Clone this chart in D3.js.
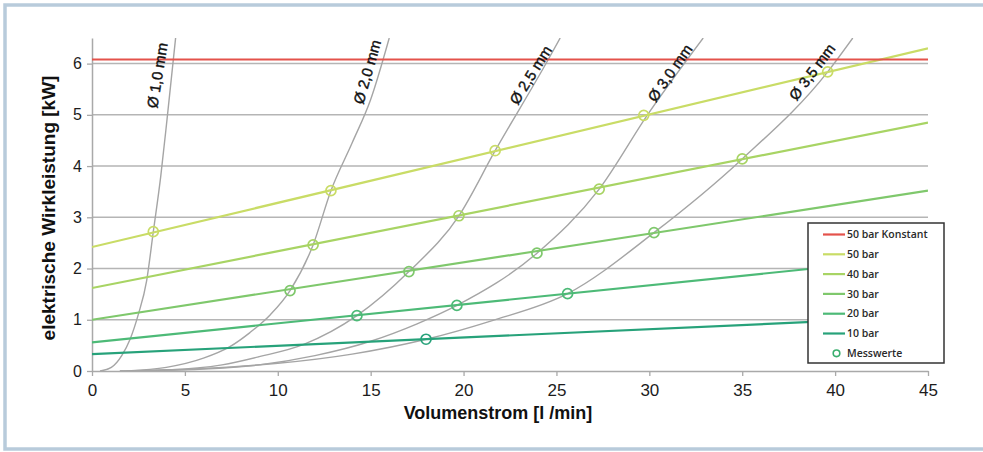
<!DOCTYPE html>
<html>
<head>
<meta charset="utf-8">
<script src="https://cdn.jsdelivr.net/npm/d3@7"></script>
<style>
  body { margin: 0; background: #fff; }
  svg { display: block; font-family: "Liberation Sans", Arial, sans-serif; }
</style>
</head>
<body>
<svg id="chart"></svg>
<script>
const xTicks = [0, 5, 10, 15, 20, 25, 30, 35, 40, 45];
const yTicks = [0, 1, 2, 3, 4, 5, 6];

// Leistung bei konstantem Druck: Wert bei 0 und bei 45 l/min
const pressureNames = ["50 bar", "40 bar", "30 bar", "20 bar", "10 bar"];
const powerAt0 = [2.42, 1.62, 1.0, 0.56, 0.33];
const powerAt45 = [6.3, 4.85, 3.52, 2.23, 1.06];
const konstant50 = 6.08;

// Messwerte [l/min, kW]
const mess50 = [[3.3, 2.72], [12.86, 3.52], [21.7, 4.3], [29.7, 4.99], [39.6, 5.84]];
const mess40 = [[11.9, 2.46], [19.75, 3.03], [27.3, 3.55], [35.0, 4.14]];
const mess30 = [[10.66, 1.57], [17.06, 1.94], [23.95, 2.3], [30.25, 2.7]];
const mess20 = [[14.26, 1.08], [19.64, 1.28], [25.6, 1.51]];
const mess10 = [[17.98, 0.62]];

// Düsenkennlinien
const nozzleNames = ["Ø 1,0 mm", "Ø 2,0 mm", "Ø 2,5 mm", "Ø 3,0 mm", "Ø 3,5 mm"];
const nozzle10 = [[0.43, 0], [1.04, 0.07], [1.6, 0.3], [2.05, 0.62], [2.49, 1.1], [2.94, 1.76], [3.3, 2.72], [3.7, 3.8], [4.05, 4.95], [4.5, 6.5]];
const nozzle20 = [[1.9, 0], [4.0, 0.07], [6.0, 0.25], [7.4, 0.47], [8.5, 0.75], [9.6, 1.1], [10.66, 1.57], [11.9, 2.46], [12.86, 3.52], [14.0, 4.45], [15.0, 5.3], [16.0, 6.5]];
const nozzle25 = [[1.5, 0], [4, 0.02], [7, 0.12], [9, 0.28], [11.4, 0.52], [14.26, 1.08], [17.06, 1.94], [19.75, 3.03], [21.7, 4.3], [24.56, 6.08], [25.2, 6.5]];
const nozzle30 = [[1.5, 0], [6, 0.04], [9, 0.12], [12, 0.3], [15, 0.58], [17.5, 0.92], [19.64, 1.28], [23.95, 2.3], [27.3, 3.55], [29.9, 5.0], [32.9, 6.5]];
const nozzle35 = [[2, 0], [6, 0.05], [10, 0.15], [14, 0.33], [17.98, 0.62], [21.5, 0.98], [25.6, 1.51], [30.25, 2.7], [35.0, 4.14], [39.6, 5.84], [40.95, 6.5]];

// label placement (data units) and angle
const nozzleLabelAt = [[3.5, 5.77], [14.8, 5.84], [23.6, 5.78], [31.1, 5.82], [38.75, 5.84]];
const nozzleLabelAngle = [-81, -74, -58, -55, -53];

const width = 983, height = 452;
const margin = { top: 38, right: 55, bottom: 81, left: 92 };
const barColors = ["#c9dc66", "#a8d464", "#7fc86c", "#4dba77", "#27a27a"];
const redColor = "#e4524b";
const gridColor = "#b5b5b5";
const curveColor = "#a5a5a5";

const svg = d3.select("#chart").attr("width", width).attr("height", height);

const x = d3.scaleLinear().domain([0, 45]).range([margin.left, width - margin.right]);
const y = d3.scaleLinear().domain([0, 6.5]).range([height - margin.bottom, margin.top]);

// frame
svg.append("rect")
  .attr("x", 5).attr("y", 5).attr("width", 1000).attr("height", 444)
  .attr("fill", "none").attr("stroke", "#b8cbdb").attr("stroke-width", 3.5);

svg.append("clipPath").attr("id", "plot")
  .append("rect")
  .attr("x", x(0)).attr("y", y(6.5))
  .attr("width", x(45) - x(0)).attr("height", y(0) - y(6.5));

// grid
svg.append("g").selectAll("line")
  .data(yTicks.filter(v => v > 0))
  .join("line")
  .attr("x1", x(0)).attr("x2", x(45))
  .attr("y1", d => y(d)).attr("y2", d => y(d))
  .attr("stroke", gridColor).attr("stroke-width", 1.5);

// axes
const yAxis = svg.append("g")
  .attr("transform", `translate(${x(0)},0)`)
  .call(d3.axisLeft(y).tickValues(yTicks).tickFormat(d3.format("d"))
    .tickSize(5).tickSizeOuter(0).tickPadding(5));
const xAxis = svg.append("g")
  .attr("transform", `translate(0,${y(0)})`)
  .call(d3.axisBottom(x).tickValues(xTicks).tickFormat(d3.format("d"))
    .tickSize(5).tickSizeOuter(0).tickPadding(8));
[yAxis, xAxis].forEach(a => {
  a.select(".domain").attr("stroke", "#a9a9a9").attr("stroke-width", 1.5);
  a.selectAll(".tick line").attr("stroke", "#a9a9a9").attr("stroke-width", 1.3);
  a.selectAll("text").attr("fill", "#1c1c1c").attr("font-family", "Liberation Sans, Arial, sans-serif");
});
yAxis.selectAll("text").attr("font-size", 16);
xAxis.selectAll("text").attr("font-size", 17);

const plot = svg.append("g").attr("clip-path", "url(#plot)");

// nozzle curves
const curveLine = d3.line()
  .x(d => x(d[0])).y(d => y(d[1]))
  .curve(d3.curveMonotoneX);
const nozzles = [nozzle10, nozzle20, nozzle25, nozzle30, nozzle35];
plot.append("g").selectAll("path")
  .data(nozzles)
  .join("path")
  .attr("d", curveLine)
  .attr("fill", "none").attr("stroke", curveColor).attr("stroke-width", 1.4);

// pressure lines
const bars = pressureNames.map((n, i) => [[0, powerAt0[i]], [45, powerAt45[i]]]);
plot.append("g").selectAll("path")
  .data(bars)
  .join("path")
  .attr("d", d3.line().x(d => x(d[0])).y(d => y(d[1])))
  .attr("fill", "none")
  .attr("stroke", (d, i) => barColors[i])
  .attr("stroke-width", 2.2);

plot.append("line")
  .attr("x1", x(0)).attr("x2", x(45))
  .attr("y1", y(konstant50)).attr("y2", y(konstant50))
  .attr("stroke", redColor).attr("stroke-width", 2);

// measured points
const messSets = [mess50, mess40, mess30, mess20, mess10];
messSets.forEach((set, i) => {
  plot.append("g").selectAll("circle")
    .data(set)
    .join("circle")
    .attr("cx", d => x(d[0])).attr("cy", d => y(d[1]))
    .attr("r", 5)
    .attr("fill", "none")
    .attr("stroke", barColors[i])
    .attr("stroke-width", 1.7);
});

// nozzle labels
svg.append("g").selectAll("text")
  .data(nozzleNames)
  .join("text")
  .attr("transform", (d, i) => `translate(${x(nozzleLabelAt[i][0])},${y(nozzleLabelAt[i][1])}) rotate(${nozzleLabelAngle[i]})`)
  .attr("text-anchor", "middle")
  .attr("dominant-baseline", "central")
  .attr("font-size", 15)
  .attr("fill", "#111")
  .attr("stroke", "#111").attr("stroke-width", 0.4)
  .text(d => d);

// axis titles
svg.append("text")
  .attr("transform", `translate(55,208) rotate(-90)`)
  .attr("text-anchor", "middle")
  .attr("font-size", 19).attr("font-weight", "bold").attr("fill", "#111")
  .text("elektrische Wirkleistung [kW]");
svg.append("text")
  .attr("x", 498).attr("y", 419)
  .attr("text-anchor", "middle")
  .attr("font-size", 18).attr("font-weight", "bold").attr("fill", "#111")
  .text("Volumenstrom [l /min]");

// legend
const legendNames = ["50 bar Konstant", ...pressureNames, "Messwerte"];
const legendColors = [redColor, ...barColors, "#3aae6e"];
const legend = svg.append("g").attr("transform", "translate(808,223)");
legend.append("rect")
  .attr("width", 136).attr("height", 140)
  .attr("fill", "#fff").attr("stroke", "#333").attr("stroke-width", 1.5);
const item = legend.selectAll("g.item")
  .data(legendNames)
  .join("g")
  .attr("class", "item")
  .attr("transform", (d, i) => `translate(0,${11.5 + i * 19.8})`);
item.filter((d, i) => i < legendNames.length - 1)
  .append("line")
  .attr("x1", 15).attr("x2", 37)
  .attr("stroke", (d, i) => legendColors[i]).attr("stroke-width", 2.2);
item.filter((d, i) => i === legendNames.length - 1)
  .append("circle")
  .attr("cx", 28.5).attr("r", 3.3)
  .attr("fill", "none").attr("stroke", legendColors[legendColors.length - 1]).attr("stroke-width", 1.6);
item.append("text")
  .attr("x", 39).attr("dy", "0.35em")
  .attr("font-family", "Open Sans, sans-serif")
  .attr("font-size", 10.5).attr("font-weight", 600)
  .attr("fill", "#2a2a2a")
  .text(d => d);
</script>
</body>
</html>
